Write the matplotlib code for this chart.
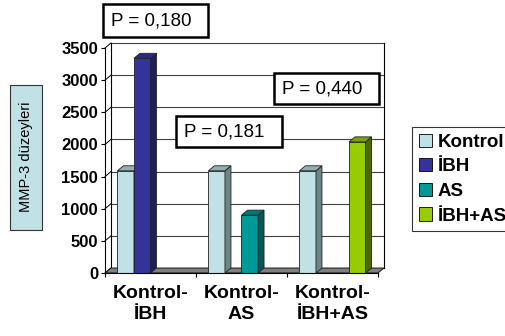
import numpy as np
import matplotlib
matplotlib.use("Agg")
import matplotlib.pyplot as plt
from matplotlib.patches import Polygon, Rectangle, Patch

plt.rcParams['font.family'] = ['Liberation Sans', 'DejaVu Sans']

# data
categories = ["Kontrol-\nİBH", "Kontrol-\nAS", "Kontrol-\nİBH+AS"]
series_names = ["Kontrol", "İBH", "AS", "İBH+AS"]
kontrol = [1590, 1590, 1590]
ibh = [3340, np.nan, np.nan]
as_vals = [np.nan, 900, np.nan]
ibh_as = [np.nan, np.nan, 2040]
y_ticks = [0, 500, 1000, 1500, 2000, 2500, 3000, 3500]
p_labels = ["P = 0,180", "P = 0,181", "P = 0,440"]
y_label = "MMP-3 düzeyleri"

face_colors = ["#C0E2E6", "#333399", "#009999", "#99CC00"]
side_colors = ["#6C8688", "#1E1E5E", "#005858", "#4E6800"]
top_colors = ["#92AFB2", "#2A2A80", "#007878", "#7AA300"]

W, H = 506, 336
fig = plt.figure(figsize=(W / 100, H / 100), dpi=100)

# front plane of the 3d box, in pixels
ax_l, ax_r, ax_t, ax_b = 105, 378, 48, 273
ax = fig.add_axes([ax_l / W, (H - ax_b) / H, (ax_r - ax_l) / W, (ax_b - ax_t) / H])
ax.set_xlim(-0.5, len(categories) - 0.5)
ax.set_ylim(0, y_ticks[-1])

# depth offset (pixels -> data units)
depth_px = (6, 5)
dx = depth_px[0] * (len(categories)) / (ax_r - ax_l)
dy = depth_px[1] * y_ticks[-1] / (ax_b - ax_t)
x0, x1 = -0.5, len(categories) - 0.5

# floor
floor = Polygon([(x0, 0), (x1, 0), (x1 + dx, dy), (x0 + dx, dy)], closed=True,
                facecolor="#7F7F7F", edgecolor="black", lw=0.6, clip_on=False, zorder=1)
ax.add_patch(floor)

# back wall: gridlines, borders, diagonals on side wall
for t in y_ticks[1:]:
    ax.plot([x0 + dx, x1 + dx], [t + dy, t + dy], color="#404040", lw=0.8,
            clip_on=False, zorder=0.5)
for t in y_ticks:
    ax.plot([x0, x0 + dx], [t, t + dy], color="black", lw=0.7, clip_on=False, zorder=0.5)
ax.plot([x0 + dx, x0 + dx], [dy, y_ticks[-1] + dy], color="black", lw=0.8, clip_on=False, zorder=0.5)
ax.plot([x1 + dx, x1 + dx], [dy, y_ticks[-1] + dy], color="black", lw=0.8, clip_on=False, zorder=0.5)

# clustered 3d-ish bars
n = len(series_names)
bw = 1 / (n + 1.5)
all_series = [kontrol, ibh, as_vals, ibh_as]
xs = np.arange(len(categories))
for i, vals in enumerate(all_series):
    pos = xs + (i - (n - 1) / 2) * bw
    z = 2 + i
    ax.bar(pos, vals, bw, color=face_colors[i], edgecolor="#222222", lw=0.6, zorder=z)
    for p, v in zip(pos, vals):
        if np.isnan(v):
            continue
        r = p + bw / 2
        l = p - bw / 2
        side = Polygon([(r, 0), (r + dx, dy), (r + dx, v + dy), (r, v)], closed=True,
                       facecolor=side_colors[i], edgecolor="#222222", lw=0.6,
                       clip_on=False, zorder=z)
        top = Polygon([(l, v), (r, v), (r + dx, v + dy), (l + dx, v + dy)], closed=True,
                      facecolor=top_colors[i], edgecolor="#222222", lw=0.6,
                      clip_on=False, zorder=z)
        ax.add_patch(side)
        ax.add_patch(top)

# axes styling
for s in ["top", "right"]:
    ax.spines[s].set_visible(False)
ax.spines["left"].set_linewidth(0.8)
ax.spines["bottom"].set_linewidth(0.8)
ax.spines["left"].set_zorder(6)
ax.spines["bottom"].set_zorder(6)
ax.set_yticks(y_ticks)
ax.set_yticklabels([str(t) for t in y_ticks], fontsize=12, fontweight="bold")
ax.tick_params(axis="y", length=3, width=0.8, pad=2)
ax.set_xticks(np.arange(len(categories) + 1) - 0.5)
ax.set_xticklabels([])
ax.tick_params(axis="x", which="major", length=3, width=0.8)
ax.set_xticks(xs, minor=True)
ax.set_xticklabels(categories, minor=True, fontsize=14, fontweight="bold", linespacing=1.25)
ax.tick_params(axis="x", which="minor", length=0, pad=9)
ax.patch.set_alpha(0)

# y label box
fig.add_artist(Rectangle((10 / W, 1 - 230 / H), 32 / W, 145 / H, transform=fig.transFigure,
                         facecolor="#C0E2E6", edgecolor="#333333", lw=0.8))
fig.text(26 / W, 1 - 157 / H, y_label, rotation=90, ha="center", va="center", fontsize=10.5)

# P value boxes (left, top, right, bottom in px)
p_boxes = [(103, 4, 208, 37), (176, 116, 282, 147), (274, 73, 379, 104)]
for lab, (l, t, r, b) in zip(p_labels, p_boxes):
    fig.add_artist(Rectangle((l / W, 1 - b / H), (r - l) / W, (b - t) / H,
                             transform=fig.transFigure, facecolor="white",
                             edgecolor="black", lw=1.8, zorder=5))
    fig.text((l + 8) / W, 1 - (t + b) / 2 / H, lab, ha="left", va="center",
             fontsize=13.5, zorder=6)

# legend
handles = [Patch(facecolor=c, edgecolor="black", lw=0.6) for c in face_colors]
leg = fig.legend(handles, series_names, loc="upper left",
                 bbox_to_anchor=(412 / W, 1 - 127 / H), frameon=True, fancybox=False,
                 edgecolor="black", prop={"weight": "bold", "size": 13.5},
                 handlelength=0.7, handleheight=0.7, handletextpad=0.3,
                 labelspacing=0.4, borderpad=0.35, borderaxespad=0)
leg.get_frame().set_linewidth(0.8)

plt.savefig("out.png", dpi=100)
